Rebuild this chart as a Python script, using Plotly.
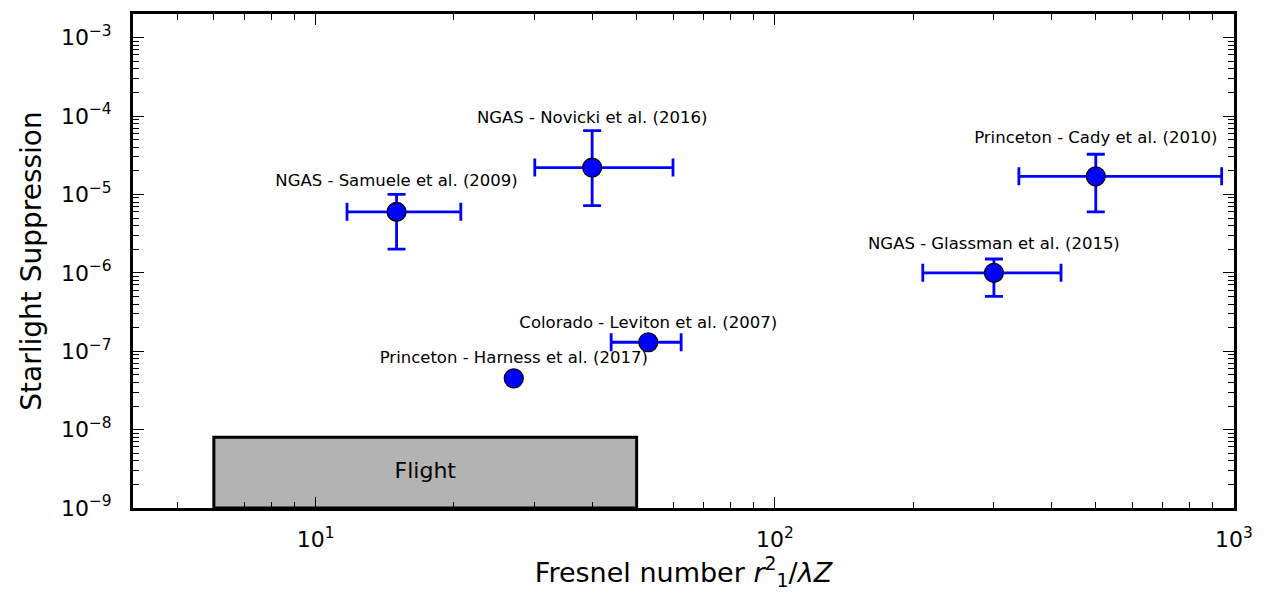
import plotly.graph_objects as go
import numpy as np

# Data
labels = ["NGAS - Samuele et al. (2009)", "NGAS - Novicki et al. (2016)",
          "Colorado - Leviton et al. (2007)", "Princeton - Harness et al. (2017)",
          "Princeton - Cady et al. (2010)", "NGAS - Glassman et al. (2015)"]
fresnel = [15, 40, 53, 27, 500, 300]
fresnel_low = [11.7, 30, 44, 27, 340, 210]
fresnel_high = [20.7, 60, 62.5, 27, 940, 420]
suppression = [6e-6, 2.2e-5, 1.3e-7, 4.5e-8, 1.7e-5, 1e-6]
supp_low = [2e-6, 7.2e-6, 1.3e-7, 4.5e-8, 6e-6, 5e-7]
supp_high = [1e-5, 6.5e-5, 1.3e-7, 4.5e-8, 3.25e-5, 1.5e-6]
label_y = [1.46e-5, 9.2e-5, 2.26e-7, 7.9e-8, 5.1e-5, 2.26e-6]

flight_x = [6, 50]
flight_y = [1e-9, 8e-9]

y_major = [1e-9, 1e-8, 1e-7, 1e-6, 1e-5, 1e-4, 1e-3]
y_ticktext = ["10<sup>\u2212%d</sup>" % e for e in [9, 8, 7, 6, 5, 4, 3]]
x_major = [10, 100, 1000]
x_ticktext = ["10<sup>1</sup>", "10<sup>2</sup>", "10<sup>3</sup>"]

FONT = "DejaVu Sans"

fig = go.Figure()

# Flight box
fig.add_trace(go.Scatter(
    x=[flight_x[0], flight_x[1], flight_x[1], flight_x[0], flight_x[0]],
    y=[flight_y[0], flight_y[0], flight_y[1], flight_y[1], flight_y[0]],
    mode="lines", fill="toself", fillcolor="#b3b3b3",
    line=dict(color="black", width=3), hoverinfo="skip", showlegend=False))
fig.add_trace(go.Scatter(
    x=[np.sqrt(flight_x[0] * flight_x[1])],
    y=[np.sqrt(flight_y[0] * flight_y[1])],
    mode="text", text=["Flight"], textposition="middle center",
    textfont=dict(family=FONT, size=22, color="black"), showlegend=False))

err_x_plus = [h - v for h, v in zip(fresnel_high, fresnel)]
err_x_minus = [v - l for l, v in zip(fresnel_low, fresnel)]
err_y_plus = [h - v for h, v in zip(supp_high, suppression)]
err_y_minus = [v - l for l, v in zip(supp_low, suppression)]

fig.add_trace(go.Scatter(
    x=fresnel, y=suppression, mode="markers",
    marker=dict(size=19, color="blue", line=dict(color="black", width=1.2)),
    error_x=dict(type="data", symmetric=False, array=err_x_plus, arrayminus=err_x_minus,
                 color="blue", thickness=2.8, width=9),
    error_y=dict(type="data", symmetric=False, array=err_y_plus, arrayminus=err_y_minus,
                 color="blue", thickness=2.8, width=9),
    showlegend=False))

fig.add_trace(go.Scatter(
    x=fresnel, y=label_y, mode="text", text=labels, textposition="middle center",
    textfont=dict(family=FONT, size=16.5, color="black"), showlegend=False))

minor_x = [v * d for d in [1, 10, 100] for v in range(2, 10) if 4 < v * d < 1000]
minor_y = [v * 10.0 ** e for e in range(-9, -2) for v in range(2, 10)]

axis_common = dict(
    showgrid=False, zeroline=False, showline=True, linecolor="black", linewidth=3,
    mirror="allticks", ticks="inside", ticklen=11, tickwidth=1.3, tickcolor="black",
    tickfont=dict(family=FONT, size=22, color="black"),
)

fig.update_xaxes(type="log", range=[np.log10(4.0), 3], tickmode="array",
                 tickvals=x_major, ticktext=x_ticktext, ticklabelstandoff=10,
                 minor=dict(tickmode="array", tickvals=minor_x, ticks="inside", ticklen=6,
                            tickwidth=1.2, tickcolor="black", showgrid=False),
                 title=dict(text="Fresnel number <i>r</i><sup>2</sup><sub>1</sub>/<i>\u03bbZ</i>",
                            font=dict(family=FONT, size=27, color="black"), standoff=8),
                 **axis_common)
fig.update_yaxes(type="log", range=[-9, np.log10(2e-3)], tickmode="array",
                 tickvals=y_major, ticktext=y_ticktext, ticklabelstandoff=14,
                 minor=dict(tickmode="array", tickvals=minor_y, ticks="inside", ticklen=6,
                            tickwidth=1.2, tickcolor="black", showgrid=False),
                 title=dict(text="Starlight Suppression",
                            font=dict(family=FONT, size=28, color="black"), standoff=12),
                 **axis_common)

fig.update_layout(
    width=1264, height=596,
    margin=dict(l=133, r=27, t=11, b=88),
    plot_bgcolor="white", paper_bgcolor="white",
    font=dict(family=FONT, color="black"),
)

fig.write_html("out.html")
